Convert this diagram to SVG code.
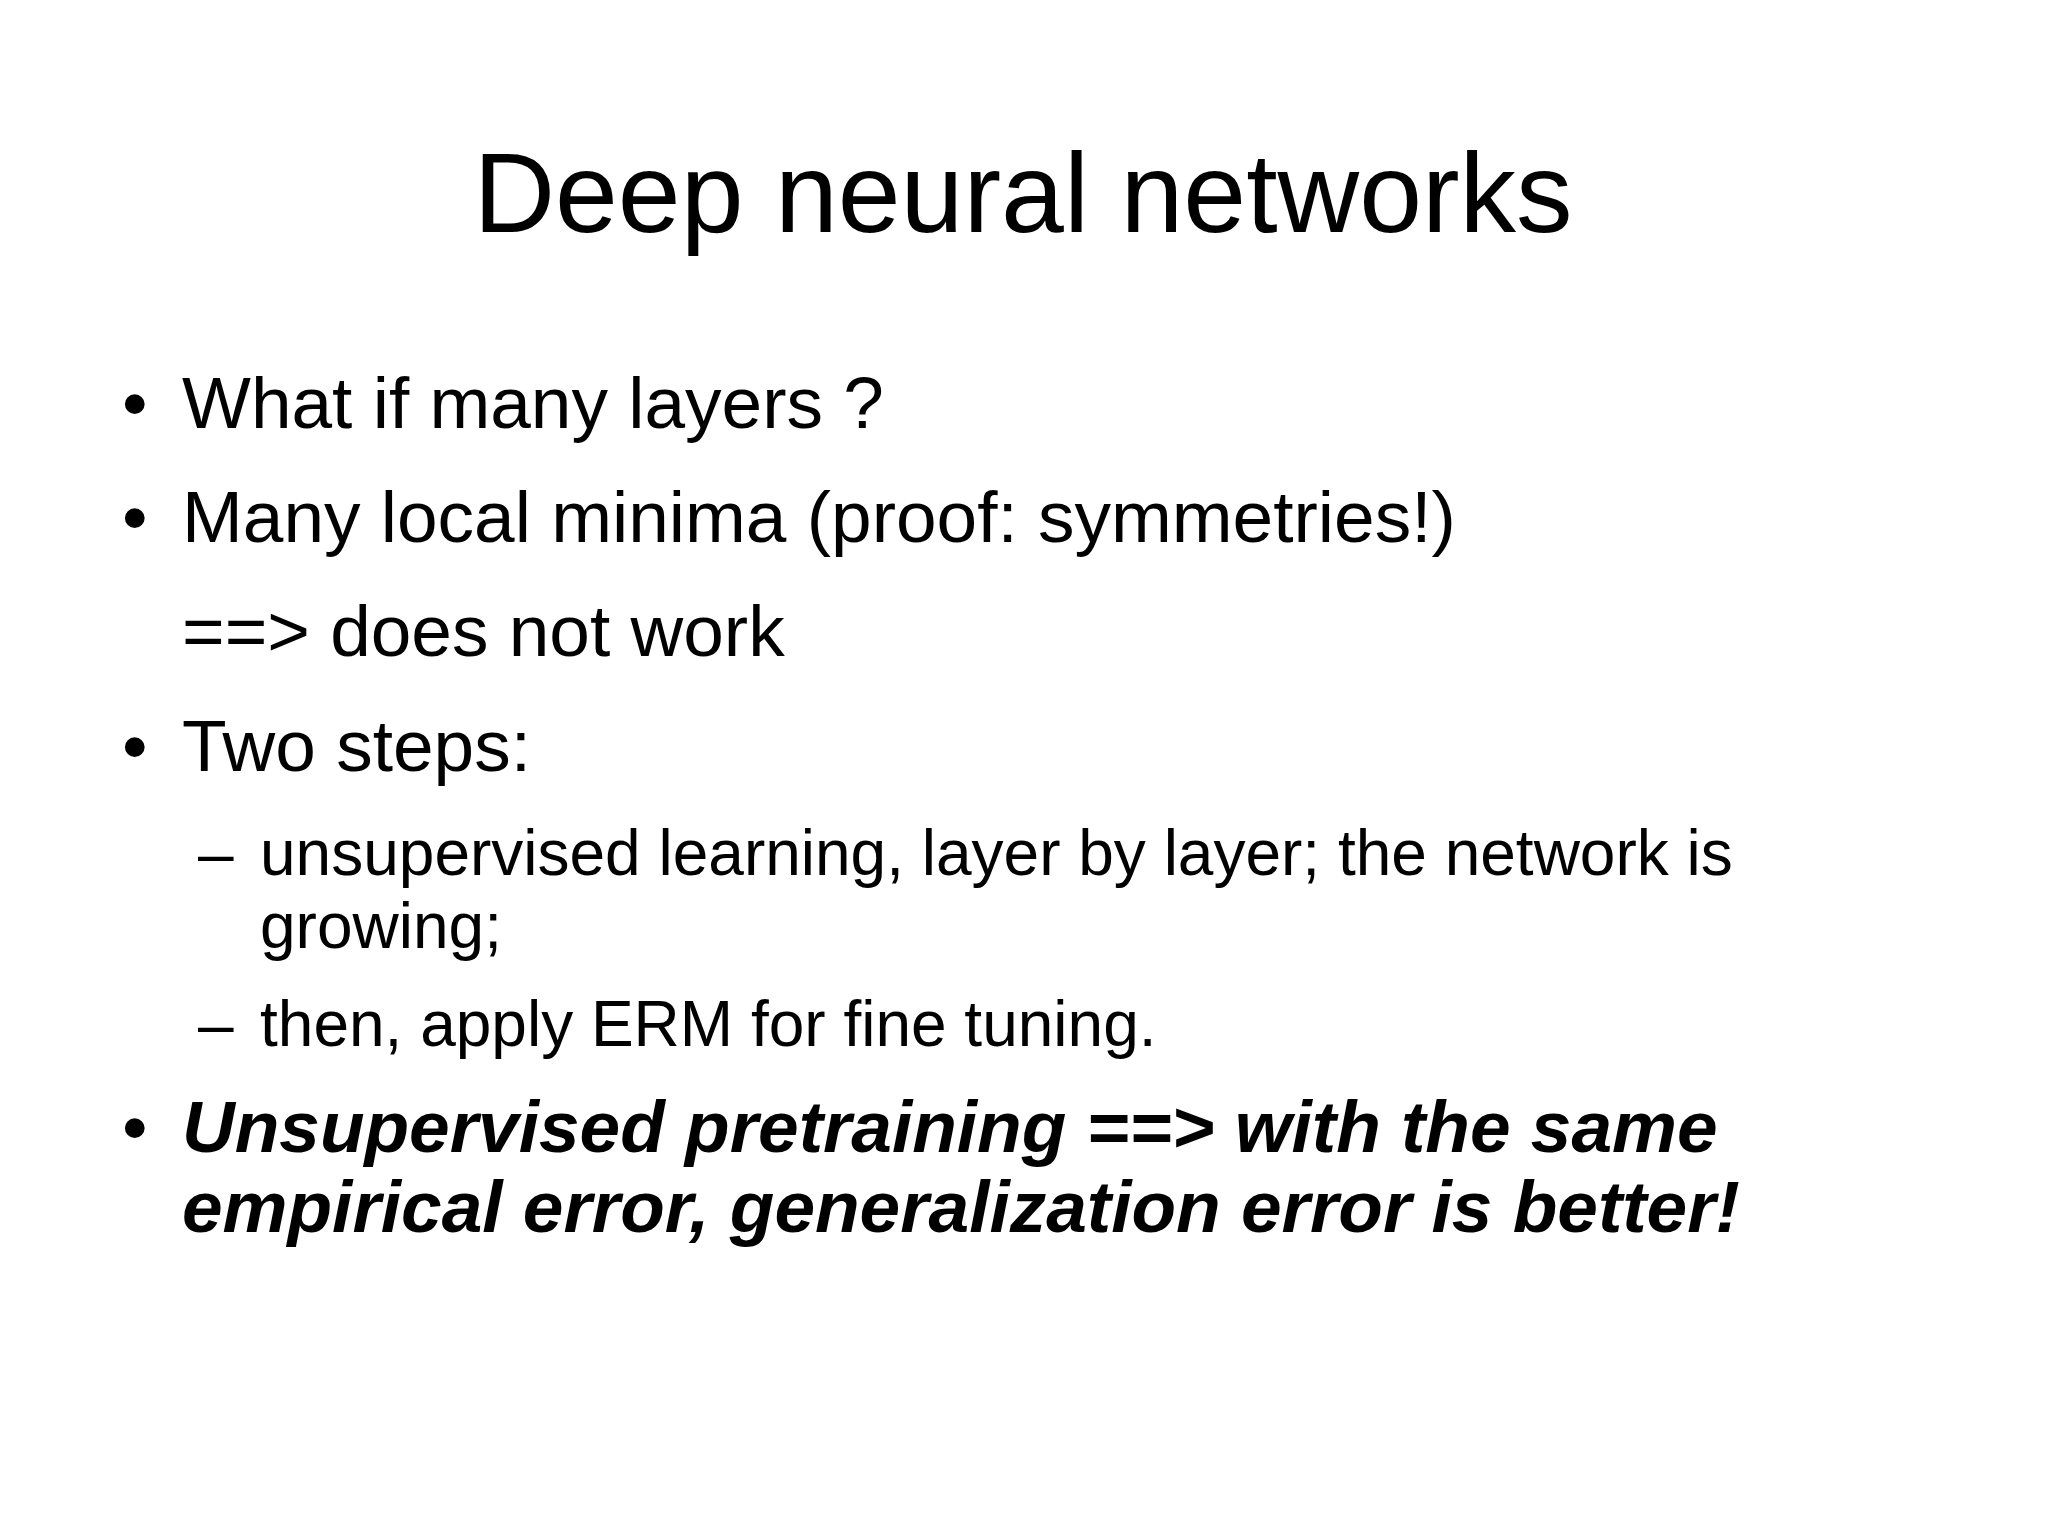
<svg xmlns="http://www.w3.org/2000/svg" width="2048" height="1535" viewBox="0 0 2048 1535">
<style>
text{font-family:"Liberation Sans",Arial,sans-serif;fill:#000}
.b{font-size:73px}
.s{font-size:64px}
.e{font-size:73px;font-weight:bold;font-style:italic}
</style>
<rect width="2048" height="1535" fill="#fff"/>
<g id="title"><text x="1023" y="232" font-size="113" text-anchor="middle">Deep neural networks</text></g>
<g id="body">
<text class="b" x="122" y="428">•</text><text class="b" x="182" y="428">What if many layers ?</text>
<text class="b" x="122" y="542">•</text><text class="b" x="182" y="542">Many local minima (proof: symmetries!)</text>
<text class="b" x="182" y="656">==&gt; does not work</text>
<text class="b" x="122" y="771">•</text><text class="b" x="182" y="771">Two steps:</text>
<text class="s" x="198" y="875">–</text><text class="s" x="260" y="875">unsupervised learning, layer by layer; the network is</text>
<text class="s" x="260" y="948">growing;</text>
<text class="s" x="198" y="1046">–</text><text class="s" x="260" y="1046">then, apply ERM for fine tuning.</text>
<text class="b" x="122" y="1152">•</text><text class="e" x="182" y="1152">Unsupervised pretraining ==&gt; with the same</text>
<text class="e" x="182" y="1232">empirical error, generalization error is better!</text>
</g>
</svg>
